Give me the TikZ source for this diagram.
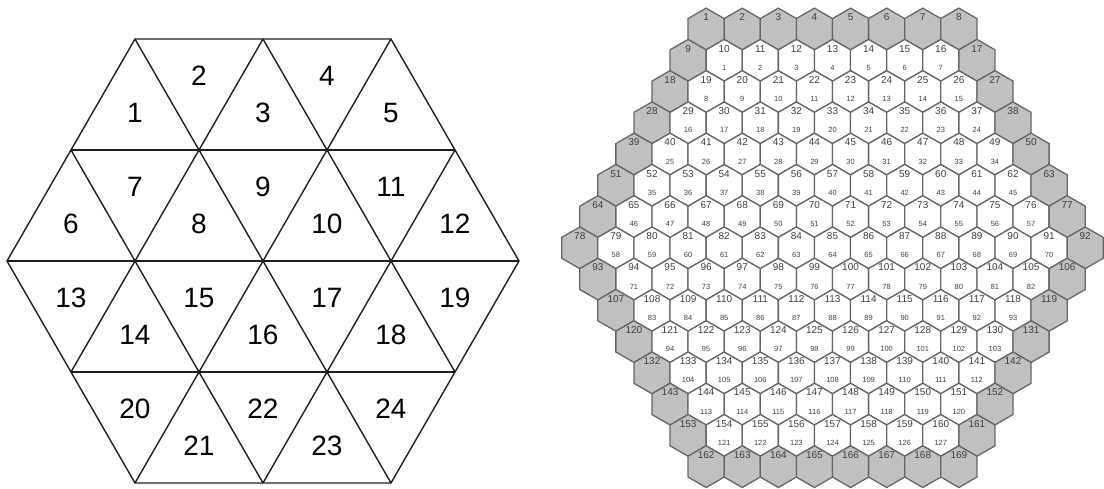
\documentclass[tikz,border=0pt]{standalone}
\usepackage{fontspec}
\setmainfont{Liberation Sans}
\usetikzlibrary{shapes.geometric}
\definecolor{hexline}{HTML}{666666}
\definecolor{hexfill}{HTML}{C0C0C0}
\definecolor{hexnum}{HTML}{404040}
\newcount\hexno
\newcount\cellno
\tikzset{
  hexcell/.style={regular polygon, regular polygon sides=6, shape border rotate=30,
    minimum size=41.7pt, inner sep=0pt, outer sep=0pt, draw=hexline, line width=1.3pt, fill=white},
  hexrim/.style={hexcell, fill=hexfill},
  biglab/.style={font=\fontsize{10}{10}\selectfont, text=hexnum, inner sep=0pt},
  smalllab/.style={font=\fontsize{7.5}{7.5}\selectfont, text=hexnum, inner sep=0pt},
  trilab/.style={font=\fontsize{28}{28}\selectfont, inner sep=0pt},
  triline/.style={line width=1.4pt, draw=black!88, line join=round}
}
\begin{document}
\begin{tikzpicture}[x=1pt, y=-1pt]
        \useasboundingbox (0,0) rectangle (1104,489);
        \fill[white] (0,0) rectangle (1104,489);

        % left: hexagon cut into 24 triangles, side 128, row height 111
        \coordinate (L) at (7, 261);
        \coordinate (R) at (519, 261);
        \coordinate (TL) at (135, 39);
        \coordinate (TM) at (263, 39);
        \coordinate (TR) at (391, 39);
        \coordinate (BL) at (135, 483);
        \coordinate (BM) at (263, 483);
        \coordinate (BR) at (391, 483);
        \coordinate (UL) at (71, 150);
        \coordinate (UR) at (455, 150);
        \coordinate (DL) at (71, 372);
        \coordinate (DR) at (455, 372);

        \draw[triline] (L) -- (TL) -- (TR) -- (R) -- (BR) -- (BL) -- cycle;
        \draw[triline] (UL) -- (UR);
        \draw[triline] (L) -- (R);
        \draw[triline] (DL) -- (DR);
        \draw[triline] (TM) -- (DL);
        \draw[triline] (TR) -- (BL);
        \draw[triline] (UR) -- (BM);
        \draw[triline] (TM) -- (DR);
        \draw[triline] (TL) -- (BR);
        \draw[triline] (UL) -- (BM);

        % numbers at the centroids, row by row
        \foreach \n/\x/\y in {1/135/113, 2/199/76, 3/263/113, 4/327/76, 5/391/113,
            6/71/224, 7/135/187, 8/199/224, 9/263/187, 10/327/224, 11/391/187, 12/455/224,
            13/71/298, 14/135/335, 15/199/298, 16/263/335, 17/327/298, 18/391/335, 19/455/298,
            20/135/409, 21/199/446, 22/263/409, 23/327/446, 24/391/409}
            \node[trilab] (t\n) at (\x, \y) {\n};

        % right: 15 rows of hexagons, grey rim, white cells numbered twice
        \global\hexno=0
        \global\cellno=0
        \foreach \r in {0,...,14}{
            \pgfmathtruncatemacro\nr{\r<8 ? 8+\r : 22-\r}
            \foreach \c in {1,...,\nr}{
                \global\advance\hexno by 1
                \edef\hn{\the\hexno}
                \pgfmathsetmacro\hx{832.5+(\c-(\nr+1)/2)*36.1}
                \pgfmathsetmacro\hy{29+31.26*\r}
                \pgfmathtruncatemacro\rim{(\r==0)||(\r==14)||(\c==1)||(\c==\nr)}
                \ifnum\rim=1
                    \node[hexrim] (h\hn) at (\hx, \hy) {};
                \else
                    \global\advance\cellno by 1
                    \edef\cn{\the\cellno}
                    \node[hexcell] (h\hn) at (\hx, \hy) {};
                    \node[smalllab] (s\cn) at ([yshift=-7.4pt]h\hn.center) {\cn};
                \fi
                \node[biglab] (b\hn) at ([yshift=11.6pt]h\hn.center) {\hn};
            }
        }
\end{tikzpicture}
\end{document}
